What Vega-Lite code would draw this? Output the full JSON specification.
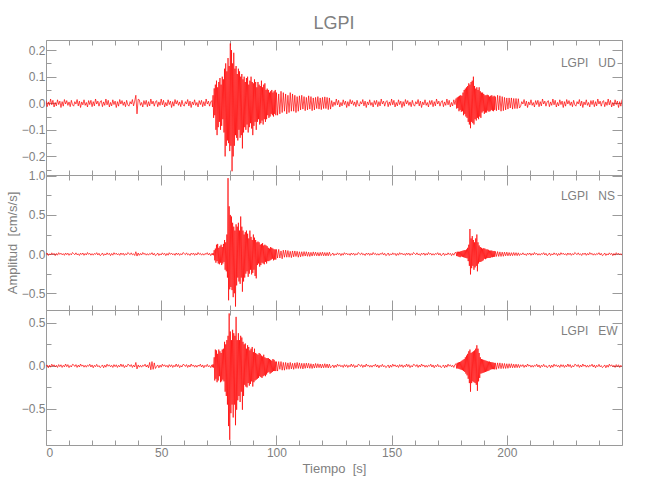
{
"$schema": "https://vega.github.io/schema/vega-lite/v6.json",
"background": "white",
"padding": {"left": 5, "top": 14, "right": 5, "bottom": 5},
"spacing": 0,
"bounds": "flush",
"datasets": {"w": [
{"t":0,"u":0.010,"n":-0.008,"e":-0.007},{"t":0.5,"u":-0.013,"n":0.014,"e":0.011},{"t":1,"u":0.005,"n":-0.018,"e":-0.022},{"t":1.5,"u":-0.008,"n":0.004,"e":0.009},{"t":2,"u":0.016,"n":-0.012,"e":-0.015},{"t":2.5,"u":-0.006,"n":0.016,"e":0.020},
{"t":3,"u":0.011,"n":-0.006,"e":-0.004},{"t":3.5,"u":-0.014,"n":0.010,"e":0.013},{"t":4,"u":0.003,"n":-0.020,"e":-0.011},{"t":4.5,"u":-0.010,"n":0.008,"e":0.007},{"t":5,"u":0.013,"n":-0.014,"e":-0.018},{"t":5.5,"u":-0.005,"n":0.018,"e":0.015},
{"t":6,"u":0.008,"n":-0.004,"e":-0.009},{"t":6.5,"u":-0.016,"n":0.012,"e":0.013},{"t":7,"u":0.006,"n":-0.010,"e":-0.018},{"t":7.5,"u":-0.011,"n":0.006,"e":0.007},{"t":8,"u":0.014,"n":-0.016,"e":-0.011},{"t":8.5,"u":-0.003,"n":0.014,"e":0.022},
{"t":9,"u":0.010,"n":-0.008,"e":-0.009},{"t":9.5,"u":-0.008,"n":0.012,"e":0.015},{"t":10,"u":0.005,"n":-0.016,"e":-0.020},{"t":10.5,"u":-0.013,"n":0.006,"e":0.004},{"t":11,"u":0.011,"n":-0.010,"e":-0.013},{"t":11.5,"u":-0.006,"n":0.020,"e":0.018},
{"t":12,"u":-0.011,"n":0.006,"e":0.013},{"t":12.5,"u":0.006,"n":-0.008,"e":-0.007},{"t":13,"u":-0.003,"n":0.016,"e":0.015},{"t":13.5,"u":0.014,"n":-0.010,"e":-0.018},{"t":14,"u":-0.010,"n":0.004,"e":0.009},{"t":14.5,"u":0.008,"n":-0.018,"e":-0.013},
{"t":15,"u":-0.016,"n":0.012,"e":0.022},{"t":15.5,"u":0.005,"n":-0.006,"e":-0.004},{"t":16,"u":-0.006,"n":0.014,"e":0.011},{"t":16.5,"u":0.013,"n":-0.016,"e":-0.015},{"t":17,"u":-0.008,"n":0.008,"e":0.007},{"t":17.5,"u":0.003,"n":-0.012,"e":-0.015},
{"t":18,"u":-0.014,"n":0.020,"e":0.009},{"t":18.5,"u":0.010,"n":-0.004,"e":-0.004},{"t":19,"u":-0.005,"n":0.010,"e":0.020},{"t":19.5,"u":0.011,"n":-0.014,"e":-0.013},{"t":20,"u":-0.013,"n":0.006,"e":0.011},{"t":20.5,"u":0.006,"n":-0.014,"e":-0.022},
{"t":21,"u":-0.010,"n":0.008,"e":0.007},{"t":21.5,"u":0.016,"n":-0.004,"e":-0.009},{"t":22,"u":-0.003,"n":0.018,"e":0.018},{"t":22.5,"u":0.008,"n":-0.012,"e":-0.011},{"t":23,"u":-0.011,"n":0.010,"e":0.004},{"t":23.5,"u":0.005,"n":-0.020,"e":-0.020},
{"t":24,"u":0.010,"n":-0.008,"e":-0.007},{"t":24.5,"u":-0.013,"n":0.014,"e":0.011},{"t":25,"u":0.005,"n":-0.018,"e":-0.022},{"t":25.5,"u":-0.008,"n":0.004,"e":0.009},{"t":26,"u":0.016,"n":-0.012,"e":-0.015},{"t":26.5,"u":-0.006,"n":0.016,"e":0.020},
{"t":27,"u":0.011,"n":-0.006,"e":-0.004},{"t":27.5,"u":-0.014,"n":0.010,"e":0.013},{"t":28,"u":0.003,"n":-0.020,"e":-0.011},{"t":28.5,"u":-0.010,"n":0.008,"e":0.007},{"t":29,"u":0.013,"n":-0.014,"e":-0.018},{"t":29.5,"u":-0.005,"n":0.018,"e":0.015},
{"t":30,"u":0.008,"n":-0.004,"e":-0.009},{"t":30.5,"u":-0.016,"n":0.012,"e":0.013},{"t":31,"u":0.006,"n":-0.010,"e":-0.018},{"t":31.5,"u":-0.011,"n":0.006,"e":0.007},{"t":32,"u":0.014,"n":-0.016,"e":-0.011},{"t":32.5,"u":-0.003,"n":0.014,"e":0.022},
{"t":33,"u":0.010,"n":-0.008,"e":-0.009},{"t":33.5,"u":-0.008,"n":0.012,"e":0.015},{"t":34,"u":0.005,"n":-0.016,"e":-0.020},{"t":34.5,"u":-0.013,"n":0.006,"e":0.004},{"t":35,"u":0.011,"n":-0.010,"e":-0.013},{"t":35.5,"u":-0.006,"n":0.020,"e":0.018},
{"t":36,"u":-0.011,"n":0.006,"e":0.013},{"t":36.5,"u":0.006,"n":-0.008,"e":-0.007},{"t":37,"u":-0.003,"n":0.016,"e":0.015},{"t":37.5,"u":0.014,"n":-0.010,"e":-0.018},{"t":38,"u":-0.010,"n":0.004,"e":0.009},{"t":38.5,"u":0.008,"n":-0.018,"e":-0.013},
{"t":39,"u":0.030,"n":0.030,"e":0.040},{"t":39.5,"u":-0.040,"n":-0.025,"e":-0.035},{"t":40,"u":0.015,"n":0.014,"e":0.011},{"t":40.5,"u":0.013,"n":-0.016,"e":-0.015},{"t":41,"u":-0.008,"n":0.008,"e":0.007},{"t":41.5,"u":0.003,"n":-0.012,"e":-0.015},
{"t":42,"u":-0.014,"n":0.020,"e":0.009},{"t":42.5,"u":0.010,"n":-0.004,"e":-0.004},{"t":43,"u":-0.005,"n":0.010,"e":0.020},{"t":43.5,"u":0.011,"n":-0.014,"e":-0.013},{"t":44,"u":-0.013,"n":0.006,"e":0.011},{"t":44.5,"u":0.006,"n":-0.014,"e":-0.022},
{"t":45,"u":-0.010,"n":0.008,"e":0.040},{"t":45.5,"u":0.016,"n":-0.004,"e":-0.045},{"t":46,"u":-0.003,"n":0.018,"e":0.050},{"t":46.5,"u":0.008,"n":-0.012,"e":-0.040},{"t":47,"u":-0.011,"n":0.010,"e":0.035},{"t":47.5,"u":0.005,"n":-0.020,"e":-0.030},
{"t":48,"u":0.010,"n":-0.008,"e":-0.007},{"t":48.5,"u":-0.013,"n":0.014,"e":0.011},{"t":49,"u":0.005,"n":-0.018,"e":-0.022},{"t":49.5,"u":-0.008,"n":0.004,"e":0.009},{"t":50,"u":0.016,"n":-0.012,"e":-0.015},{"t":50.5,"u":-0.006,"n":0.016,"e":0.020},
{"t":51,"u":0.011,"n":-0.006,"e":-0.004},{"t":51.5,"u":-0.014,"n":0.010,"e":0.013},{"t":52,"u":0.003,"n":-0.020,"e":-0.011},{"t":52.5,"u":-0.010,"n":0.008,"e":0.007},{"t":53,"u":0.013,"n":-0.014,"e":-0.018},{"t":53.5,"u":-0.005,"n":0.018,"e":0.015},
{"t":54,"u":0.008,"n":-0.004,"e":-0.009},{"t":54.5,"u":-0.016,"n":0.012,"e":0.013},{"t":55,"u":0.006,"n":-0.010,"e":-0.018},{"t":55.5,"u":-0.011,"n":0.006,"e":0.007},{"t":56,"u":0.014,"n":-0.016,"e":-0.011},{"t":56.5,"u":-0.003,"n":0.014,"e":0.022},
{"t":57,"u":0.010,"n":-0.008,"e":-0.009},{"t":57.5,"u":-0.008,"n":0.012,"e":0.015},{"t":58,"u":0.005,"n":-0.016,"e":-0.020},{"t":58.5,"u":-0.013,"n":0.006,"e":0.004},{"t":59,"u":0.011,"n":-0.010,"e":-0.013},{"t":59.5,"u":-0.006,"n":0.020,"e":0.018},
{"t":60,"u":-0.011,"n":0.006,"e":0.013},{"t":60.5,"u":0.006,"n":-0.008,"e":-0.007},{"t":61,"u":-0.003,"n":0.016,"e":0.015},{"t":61.5,"u":0.014,"n":-0.010,"e":-0.018},{"t":62,"u":-0.010,"n":0.004,"e":0.009},{"t":62.5,"u":0.008,"n":-0.018,"e":-0.013},
{"t":63,"u":-0.016,"n":0.012,"e":0.022},{"t":63.5,"u":0.005,"n":-0.006,"e":-0.004},{"t":64,"u":-0.006,"n":0.014,"e":0.011},{"t":64.5,"u":0.013,"n":-0.016,"e":-0.015},{"t":65,"u":-0.008,"n":0.008,"e":0.007},{"t":65.5,"u":0.003,"n":-0.012,"e":-0.015},
{"t":66,"u":-0.014,"n":0.020,"e":0.009},{"t":66.5,"u":0.010,"n":-0.004,"e":-0.004},{"t":67,"u":-0.005,"n":0.010,"e":0.020},{"t":67.5,"u":0.011,"n":-0.014,"e":-0.013},{"t":68,"u":-0.013,"n":0.006,"e":0.011},{"t":68.5,"u":0.006,"n":-0.014,"e":-0.022},
{"t":69,"u":-0.010,"n":0.008,"e":0.007},{"t":69.5,"u":0.016,"n":-0.004,"e":-0.009},{"t":70,"u":-0.003,"n":0.018,"e":0.018},{"t":70.5,"u":0.008,"n":-0.012,"e":-0.011},{"t":71,"u":-0.011,"n":0.010,"e":0.004},{"t":71.5,"u":0.005,"n":-0.020,"e":-0.020},
{"t":72,"u":0.010,"n":0.008,"e":0.012},{"t":72.25,"u":-0.014,"n":-0.010,"e":-0.015},{"t":72.5,"u":0.030,"n":0.012,"e":0.018},{"t":72.75,"u":-0.055,"n":-0.015,"e":-0.020},
{"t":73,"u":0.056,"n":0.05,"e":0.10},{"t":73.25,"u":-0.045,"n":-0.08,"e":-0.17},{"t":73.5,"u":0.070,"n":0.07,"e":0.19},{"t":73.75,"u":-0.100,"n":-0.11,"e":-0.15},
{"t":74,"u":0.085,"n":0.12,"e":0.18},{"t":74.25,"u":-0.120,"n":-0.09,"e":-0.19},{"t":74.5,"u":0.060,"n":0.13,"e":0.14},{"t":74.75,"u":-0.090,"n":-0.12,"e":-0.17},
{"t":75,"u":0.080,"n":0.08,"e":0.19},{"t":75.25,"u":-0.070,"n":-0.13,"e":-0.12},{"t":75.5,"u":0.095,"n":0.10,"e":0.17},{"t":75.75,"u":-0.100,"n":-0.11,"e":-0.19},
{"t":76,"u":0.070,"n":0.12,"e":0.15},{"t":76.25,"u":-0.085,"n":-0.14,"e":-0.18},{"t":76.5,"u":0.100,"n":0.09,"e":0.19},{"t":76.75,"u":-0.060,"n":-0.12,"e":-0.16},
{"t":77,"u":0.090,"n":0.13,"e":0.20},{"t":77.25,"u":-0.110,"n":-0.10,"e":-0.18},{"t":77.5,"u":0.130,"n":0.18,"e":0.28},{"t":77.75,"u":-0.200,"n":-0.20,"e":-0.30},
{"t":78,"u":0.150,"n":0.15,"e":0.25},{"t":78.25,"u":-0.160,"n":-0.22,"e":-0.35},{"t":78.5,"u":0.120,"n":0.25,"e":0.30},{"t":78.75,"u":-0.140,"n":-0.30,"e":-0.45},
{"t":79,"u":0.170,"n":0.97,"e":0.35},{"t":79.25,"u":-0.150,"n":-0.59,"e":-0.70},{"t":79.5,"u":0.140,"n":0.61,"e":0.61},{"t":79.75,"u":-0.180,"n":-0.45,"e":-0.86},
{"t":80,"u":0.225,"n":0.50,"e":0.40},{"t":80.25,"u":-0.160,"n":-0.42,"e":-0.55},{"t":80.5,"u":0.200,"n":0.48,"e":0.30},{"t":80.75,"u":-0.256,"n":-0.46,"e":-0.45},
{"t":81,"u":0.150,"n":0.40,"e":0.42},{"t":81.25,"u":-0.200,"n":-0.55,"e":-0.60},{"t":81.5,"u":0.190,"n":0.35,"e":0.38},{"t":81.75,"u":-0.160,"n":-0.50,"e":-0.45},
{"t":82,"u":0.130,"n":0.30,"e":0.35},{"t":82.25,"u":-0.120,"n":-0.67,"e":-0.69},{"t":82.5,"u":0.140,"n":0.38,"e":0.57},{"t":82.75,"u":-0.130,"n":-0.40,"e":-0.51},
{"t":83,"u":0.110,"n":0.35,"e":0.30},{"t":83.25,"u":-0.140,"n":-0.30,"e":-0.40},{"t":83.5,"u":0.130,"n":0.40,"e":0.38},{"t":83.75,"u":-0.100,"n":-0.35,"e":-0.35},
{"t":84,"u":0.120,"n":0.30,"e":0.30},{"t":84.25,"u":-0.130,"n":-0.38,"e":-0.42},{"t":84.5,"u":0.100,"n":0.48,"e":0.35},{"t":84.75,"u":-0.120,"n":-0.30,"e":-0.30},
{"t":85,"u":0.110,"n":0.35,"e":0.33},{"t":85.25,"u":-0.170,"n":-0.48,"e":-0.51},{"t":85.5,"u":0.090,"n":0.30,"e":0.28},{"t":85.75,"u":-0.110,"n":-0.35,"e":-0.35},
{"t":86,"u":0.100,"n":0.25,"e":0.25},{"t":86.25,"u":-0.090,"n":-0.30,"e":-0.22},{"t":86.5,"u":0.080,"n":0.28,"e":0.26},{"t":86.75,"u":-0.100,"n":-0.25,"e":-0.24},
{"t":87,"u":0.095,"n":0.30,"e":0.20},{"t":87.25,"u":-0.080,"n":-0.22,"e":-0.25},{"t":87.5,"u":0.100,"n":0.26,"e":0.24},{"t":87.75,"u":-0.110,"n":-0.29,"e":-0.20},
{"t":88,"u":0.070,"n":0.20,"e":0.22},{"t":88.25,"u":-0.090,"n":-0.25,"e":-0.23},{"t":88.5,"u":0.085,"n":0.30,"e":0.18},{"t":88.75,"u":-0.075,"n":-0.20,"e":-0.21},
{"t":89,"u":0.100,"n":0.22,"e":0.20},{"t":89.25,"u":-0.095,"n":-0.26,"e":-0.18},{"t":89.5,"u":0.080,"n":0.18,"e":0.22},{"t":89.75,"u":-0.120,"n":-0.24,"e":-0.24},
{"t":90,"u":0.075,"n":0.25,"e":0.16},{"t":90.25,"u":-0.085,"n":-0.20,"e":-0.19},{"t":90.5,"u":0.090,"n":0.21,"e":0.20},{"t":90.75,"u":-0.070,"n":-0.28,"e":-0.17},
{"t":91,"u":0.080,"n":0.18,"e":0.15},{"t":91.25,"u":-0.100,"n":-0.31,"e":-0.16},{"t":91.5,"u":0.060,"n":0.15,"e":0.14},{"t":91.75,"u":-0.070,"n":-0.14,"e":-0.15},
{"t":92,"u":0.080,"n":0.16,"e":0.13},{"t":92.25,"u":-0.060,"n":-0.12,"e":-0.14},{"t":92.5,"u":0.070,"n":0.15,"e":0.15},{"t":92.75,"u":-0.080,"n":-0.16,"e":-0.12},
{"t":93,"u":0.065,"n":0.12,"e":0.14},{"t":93.25,"u":-0.075,"n":-0.14,"e":-0.13},{"t":93.5,"u":0.085,"n":0.13,"e":0.12},{"t":93.75,"u":-0.065,"n":-0.11,"e":-0.14},
{"t":94,"u":0.060,"n":0.14,"e":0.11},{"t":94.25,"u":-0.080,"n":-0.12,"e":-0.12},{"t":94.5,"u":0.070,"n":0.11,"e":0.13},{"t":94.75,"u":-0.060,"n":-0.13,"e":-0.11},
{"t":95,"u":0.075,"n":0.12,"e":0.10},{"t":95.25,"u":-0.070,"n":-0.10,"e":-0.12},{"t":95.5,"u":0.050,"n":0.11,"e":0.09},{"t":95.75,"u":-0.060,"n":-0.12,"e":-0.10},
{"t":96,"u":0.055,"n":0.10,"e":0.09},{"t":96.25,"u":-0.045,"n":-0.09,"e":-0.08},{"t":96.5,"u":0.050,"n":0.08,"e":0.09},{"t":96.75,"u":-0.055,"n":-0.09,"e":-0.07},
{"t":97,"u":0.040,"n":0.07,"e":0.08},{"t":97.25,"u":-0.050,"n":-0.08,"e":-0.09},{"t":97.5,"u":0.045,"n":0.09,"e":0.07},{"t":97.75,"u":-0.040,"n":-0.07,"e":-0.08},
{"t":98,"u":0.050,"n":0.08,"e":0.06},{"t":98.25,"u":-0.045,"n":-0.06,"e":-0.07},{"t":98.5,"u":0.040,"n":0.07,"e":0.08},{"t":98.75,"u":-0.050,"n":-0.08,"e":-0.06},
{"t":99,"u":0.045,"n":0.06,"e":0.07},{"t":99.25,"u":-0.040,"n":-0.07,"e":-0.06},{"t":99.5,"u":0.050,"n":0.06,"e":0.05},{"t":99.75,"u":-0.045,"n":-0.07,"e":-0.06},
{"t":100,"u":0.040,"n":0.06,"e":0.05},{"t":100.5,"u":-0.045,"n":-0.05,"e":-0.06},{"t":101,"u":0.035,"n":0.06,"e":0.05},{"t":101.5,"u":-0.040,"n":-0.05,"e":-0.04},{"t":102,"u":0.045,"n":0.04,"e":0.05},{"t":102.5,"u":-0.035,"n":-0.06,"e":-0.05},
{"t":103,"u":0.040,"n":0.05,"e":0.04},{"t":103.5,"u":-0.030,"n":-0.04,"e":-0.05},{"t":104,"u":0.035,"n":0.05,"e":0.04},{"t":104.5,"u":-0.040,"n":-0.04,"e":-0.04},{"t":105,"u":0.030,"n":0.045,"e":0.035},{"t":105.5,"u":-0.035,"n":-0.04,"e":-0.04},
{"t":106,"u":0.040,"n":0.035,"e":0.04},{"t":106.5,"u":-0.030,"n":-0.045,"e":-0.035},{"t":107,"u":0.035,"n":0.04,"e":0.03},{"t":107.5,"u":-0.030,"n":-0.035,"e":-0.04},{"t":108,"u":0.030,"n":0.04,"e":0.035},{"t":108.5,"u":-0.035,"n":-0.03,"e":-0.03},
{"t":109,"u":0.025,"n":0.035,"e":0.04},{"t":109.5,"u":-0.030,"n":-0.04,"e":-0.03},{"t":110,"u":0.028,"n":0.03,"e":0.035},{"t":110.5,"u":-0.025,"n":-0.035,"e":-0.03},{"t":111,"u":0.030,"n":0.03,"e":0.03},{"t":111.5,"u":-0.022,"n":-0.028,"e":-0.035},
{"t":112,"u":0.025,"n":0.032,"e":0.03},{"t":112.5,"u":-0.028,"n":-0.025,"e":-0.028},{"t":113,"u":0.022,"n":0.03,"e":0.032},{"t":113.5,"u":-0.025,"n":-0.028,"e":-0.025},{"t":114,"u":0.028,"n":0.025,"e":0.03},{"t":114.5,"u":-0.022,"n":-0.03,"e":-0.028},
{"t":115,"u":0.025,"n":0.022,"e":0.025},{"t":115.5,"u":-0.028,"n":-0.025,"e":-0.03},{"t":116,"u":0.020,"n":0.028,"e":0.022},{"t":116.5,"u":-0.025,"n":-0.02,"e":-0.025},{"t":117,"u":0.022,"n":0.025,"e":0.028},{"t":117.5,"u":-0.020,"n":-0.022,"e":-0.022},
{"t":118,"u":0.025,"n":0.02,"e":0.025},{"t":118.5,"u":-0.022,"n":-0.025,"e":-0.02},{"t":119,"u":0.020,"n":0.022,"e":0.022},{"t":119.5,"u":-0.024,"n":-0.02,"e":-0.025},{"t":120,"u":0.022,"n":0.025,"e":0.02},{"t":120.5,"u":-0.020,"n":-0.022,"e":-0.022},
{"t":121,"u":0.024,"n":0.02,"e":0.025},{"t":121.5,"u":-0.020,"n":-0.023,"e":-0.02},{"t":122,"u":0.022,"n":0.02,"e":0.022},{"t":122.5,"u":-0.024,"n":-0.022,"e":-0.024},{"t":123,"u":0.020,"n":0.024,"e":0.02},{"t":123.5,"u":-0.022,"n":-0.02,"e":-0.022},
{"t":124,"u":0.010,"n":-0.008,"e":-0.007},{"t":124.5,"u":-0.013,"n":0.014,"e":0.011},{"t":125,"u":0.005,"n":-0.018,"e":-0.022},{"t":125.5,"u":-0.008,"n":0.004,"e":0.009},{"t":126,"u":0.016,"n":-0.012,"e":-0.015},{"t":126.5,"u":-0.006,"n":0.016,"e":0.020},
{"t":127,"u":0.011,"n":-0.006,"e":-0.004},{"t":127.5,"u":-0.014,"n":0.010,"e":0.013},{"t":128,"u":0.003,"n":-0.020,"e":-0.011},{"t":128.5,"u":-0.010,"n":0.008,"e":0.007},{"t":129,"u":0.013,"n":-0.014,"e":-0.018},{"t":129.5,"u":-0.005,"n":0.018,"e":0.015},
{"t":130,"u":0.008,"n":-0.004,"e":-0.009},{"t":130.5,"u":-0.016,"n":0.012,"e":0.013},{"t":131,"u":0.006,"n":-0.010,"e":-0.018},{"t":131.5,"u":-0.011,"n":0.006,"e":0.007},{"t":132,"u":0.014,"n":-0.016,"e":-0.011},{"t":132.5,"u":-0.003,"n":0.014,"e":0.022},
{"t":133,"u":0.010,"n":-0.008,"e":-0.009},{"t":133.5,"u":-0.008,"n":0.012,"e":0.015},{"t":134,"u":0.005,"n":-0.016,"e":-0.020},{"t":134.5,"u":-0.013,"n":0.006,"e":0.004},{"t":135,"u":0.011,"n":-0.010,"e":-0.013},{"t":135.5,"u":-0.006,"n":0.020,"e":0.018},
{"t":136,"u":-0.011,"n":0.006,"e":0.013},{"t":136.5,"u":0.006,"n":-0.008,"e":-0.007},{"t":137,"u":-0.003,"n":0.016,"e":0.015},{"t":137.5,"u":0.014,"n":-0.010,"e":-0.018},{"t":138,"u":-0.010,"n":0.004,"e":0.009},{"t":138.5,"u":0.008,"n":-0.018,"e":-0.013},
{"t":139,"u":-0.016,"n":0.012,"e":0.022},{"t":139.5,"u":0.005,"n":-0.006,"e":-0.004},{"t":140,"u":-0.006,"n":0.014,"e":0.011},{"t":140.5,"u":0.013,"n":-0.016,"e":-0.015},{"t":141,"u":-0.008,"n":0.008,"e":0.007},{"t":141.5,"u":0.003,"n":-0.012,"e":-0.015},
{"t":142,"u":-0.014,"n":0.020,"e":0.009},{"t":142.5,"u":0.010,"n":-0.004,"e":-0.004},{"t":143,"u":-0.005,"n":0.010,"e":0.020},{"t":143.5,"u":0.011,"n":-0.014,"e":-0.013},{"t":144,"u":-0.013,"n":0.006,"e":0.011},{"t":144.5,"u":0.006,"n":-0.014,"e":-0.022},
{"t":145,"u":-0.010,"n":0.008,"e":0.007},{"t":145.5,"u":0.016,"n":-0.004,"e":-0.009},{"t":146,"u":-0.003,"n":0.018,"e":0.018},{"t":146.5,"u":0.008,"n":-0.012,"e":-0.011},{"t":147,"u":-0.011,"n":0.010,"e":0.004},{"t":147.5,"u":0.005,"n":-0.020,"e":-0.020},
{"t":148,"u":0.010,"n":-0.008,"e":-0.007},{"t":148.5,"u":-0.013,"n":0.014,"e":0.011},{"t":149,"u":0.005,"n":-0.018,"e":-0.022},{"t":149.5,"u":-0.008,"n":0.004,"e":0.009},{"t":150,"u":0.016,"n":-0.012,"e":-0.015},{"t":150.5,"u":-0.006,"n":0.016,"e":0.020},
{"t":151,"u":0.011,"n":-0.006,"e":-0.004},{"t":151.5,"u":-0.014,"n":0.010,"e":0.013},{"t":152,"u":0.003,"n":-0.020,"e":-0.011},{"t":152.5,"u":-0.010,"n":0.008,"e":0.007},{"t":153,"u":0.013,"n":-0.014,"e":-0.018},{"t":153.5,"u":-0.005,"n":0.018,"e":0.015},
{"t":154,"u":0.008,"n":-0.004,"e":-0.009},{"t":154.5,"u":-0.016,"n":0.012,"e":0.013},{"t":155,"u":0.006,"n":-0.010,"e":-0.018},{"t":155.5,"u":-0.011,"n":0.006,"e":0.007},{"t":156,"u":0.014,"n":-0.016,"e":-0.011},{"t":156.5,"u":-0.003,"n":0.014,"e":0.022},
{"t":157,"u":0.010,"n":-0.008,"e":-0.009},{"t":157.5,"u":-0.008,"n":0.012,"e":0.015},{"t":158,"u":0.005,"n":-0.016,"e":-0.020},{"t":158.5,"u":-0.013,"n":0.006,"e":0.004},{"t":159,"u":0.011,"n":-0.010,"e":-0.013},{"t":159.5,"u":-0.006,"n":0.020,"e":0.018},
{"t":160,"u":-0.011,"n":0.006,"e":0.013},{"t":160.5,"u":0.006,"n":-0.008,"e":-0.007},{"t":161,"u":-0.003,"n":0.016,"e":0.015},{"t":161.5,"u":0.014,"n":-0.010,"e":-0.018},{"t":162,"u":-0.010,"n":0.004,"e":0.009},{"t":162.5,"u":0.008,"n":-0.018,"e":-0.013},
{"t":163,"u":-0.016,"n":0.012,"e":0.022},{"t":163.5,"u":0.005,"n":-0.006,"e":-0.004},{"t":164,"u":-0.006,"n":0.014,"e":0.011},{"t":164.5,"u":0.013,"n":-0.016,"e":-0.015},{"t":165,"u":-0.008,"n":0.008,"e":0.007},{"t":165.5,"u":0.003,"n":-0.012,"e":-0.015},
{"t":166,"u":-0.014,"n":0.020,"e":0.009},{"t":166.5,"u":0.010,"n":-0.004,"e":-0.004},{"t":167,"u":-0.005,"n":0.010,"e":0.020},{"t":167.5,"u":0.011,"n":-0.014,"e":-0.013},{"t":168,"u":-0.013,"n":0.006,"e":0.011},{"t":168.5,"u":0.006,"n":-0.014,"e":-0.022},
{"t":169,"u":-0.010,"n":0.008,"e":0.007},{"t":169.5,"u":0.016,"n":-0.004,"e":-0.009},{"t":170,"u":-0.003,"n":0.018,"e":0.018},{"t":170.5,"u":0.008,"n":-0.012,"e":-0.011},{"t":171,"u":-0.011,"n":0.010,"e":0.004},{"t":171.5,"u":0.005,"n":-0.020,"e":-0.020},
{"t":172,"u":0.010,"n":-0.008,"e":-0.007},{"t":172.5,"u":-0.013,"n":0.014,"e":0.011},{"t":173,"u":0.005,"n":-0.018,"e":-0.022},{"t":173.5,"u":-0.008,"n":0.004,"e":0.009},{"t":174,"u":0.016,"n":-0.012,"e":-0.015},{"t":174.5,"u":-0.006,"n":0.016,"e":0.020},
{"t":175,"u":0.011,"n":-0.006,"e":-0.004},{"t":175.5,"u":-0.014,"n":0.010,"e":0.013},{"t":176,"u":0.003,"n":-0.020,"e":-0.011},{"t":176.5,"u":-0.010,"n":0.008,"e":0.007},{"t":177,"u":0.013,"n":-0.014,"e":-0.018},{"t":177.5,"u":-0.005,"n":0.018,"e":0.015},
{"t":178,"u":0.018,"n":0.020,"e":0.025},{"t":178.25,"u":-0.020,"n":-0.025,"e":-0.030},{"t":178.5,"u":0.022,"n":0.030,"e":0.035},{"t":178.75,"u":-0.018,"n":-0.028,"e":-0.030},
{"t":179,"u":0.025,"n":0.030,"e":0.040},{"t":179.25,"u":-0.030,"n":-0.035,"e":-0.035},{"t":179.5,"u":0.028,"n":0.030,"e":0.045},{"t":179.75,"u":-0.025,"n":-0.040,"e":-0.040},
{"t":180,"u":0.030,"n":0.035,"e":0.050},{"t":180.25,"u":-0.032,"n":-0.030,"e":-0.045},{"t":180.5,"u":0.028,"n":0.040,"e":0.060},{"t":180.75,"u":-0.030,"n":-0.035,"e":-0.050},
{"t":181,"u":0.040,"n":0.045,"e":0.070},{"t":181.25,"u":-0.045,"n":-0.040,"e":-0.060},{"t":181.5,"u":0.050,"n":0.050,"e":0.080},{"t":181.75,"u":-0.040,"n":-0.045,"e":-0.070},
{"t":182,"u":0.055,"n":0.050,"e":0.100},{"t":182.25,"u":-0.050,"n":-0.050,"e":-0.090},{"t":182.5,"u":0.060,"n":0.060,"e":0.120},{"t":182.75,"u":-0.055,"n":-0.055,"e":-0.110},
{"t":183,"u":0.065,"n":0.080,"e":0.140},{"t":183.25,"u":-0.070,"n":-0.090,"e":-0.150},{"t":183.5,"u":0.075,"n":0.120,"e":0.170},{"t":183.75,"u":-0.080,"n":-0.150,"e":-0.200},
{"t":184,"u":0.070,"n":0.320,"e":0.190},{"t":184.25,"u":-0.094,"n":-0.260,"e":-0.300},{"t":184.5,"u":0.080,"n":0.200,"e":0.150},{"t":184.75,"u":-0.070,"n":-0.180,"e":-0.200},
{"t":185,"u":0.085,"n":0.230,"e":0.160},{"t":185.25,"u":-0.075,"n":-0.150,"e":-0.180},{"t":185.5,"u":0.100,"n":0.180,"e":0.170},{"t":185.75,"u":-0.080,"n":-0.200,"e":-0.190},
{"t":186,"u":0.065,"n":0.150,"e":0.180},{"t":186.25,"u":-0.060,"n":-0.170,"e":-0.200},{"t":186.5,"u":0.055,"n":0.200,"e":0.200},{"t":186.75,"u":-0.065,"n":-0.150,"e":-0.220},
{"t":187,"u":0.060,"n":0.250,"e":0.240},{"t":187.25,"u":-0.055,"n":-0.220,"e":-0.290},{"t":187.5,"u":0.050,"n":0.150,"e":0.200},{"t":187.75,"u":-0.060,"n":-0.120,"e":-0.180},
{"t":188,"u":0.060,"n":0.110,"e":0.150},{"t":188.25,"u":-0.050,"n":-0.100,"e":-0.140},{"t":188.5,"u":0.045,"n":0.090,"e":0.100},{"t":188.75,"u":-0.055,"n":-0.100,"e":-0.090},
{"t":189,"u":0.040,"n":0.080,"e":0.080},{"t":189.25,"u":-0.035,"n":-0.090,"e":-0.085},{"t":189.5,"u":0.040,"n":0.070,"e":0.075},{"t":189.75,"u":-0.030,"n":-0.080,"e":-0.080},
{"t":190,"u":0.035,"n":0.075,"e":0.070},{"t":190.25,"u":-0.040,"n":-0.060,"e":-0.075},{"t":190.5,"u":0.030,"n":0.070,"e":0.065},{"t":190.75,"u":-0.035,"n":-0.065,"e":-0.070},
{"t":191,"u":0.030,"n":0.060,"e":0.060},{"t":191.25,"u":-0.035,"n":-0.055,"e":-0.065},{"t":191.5,"u":0.032,"n":0.060,"e":0.055},{"t":191.75,"u":-0.028,"n":-0.050,"e":-0.060},
{"t":192,"u":0.030,"n":0.055,"e":0.050},{"t":192.25,"u":-0.032,"n":-0.050,"e":-0.055},{"t":192.5,"u":0.025,"n":0.045,"e":0.050},{"t":192.75,"u":-0.030,"n":-0.050,"e":-0.045},
{"t":193,"u":0.028,"n":0.045,"e":0.045},{"t":193.25,"u":-0.025,"n":-0.040,"e":-0.040},{"t":193.5,"u":0.030,"n":0.045,"e":0.042},{"t":193.75,"u":-0.028,"n":-0.040,"e":-0.038},
{"t":194,"u":0.025,"n":0.038,"e":0.040},{"t":194.25,"u":-0.030,"n":-0.035,"e":-0.038},{"t":194.5,"u":0.028,"n":0.040,"e":0.035},{"t":194.75,"u":-0.025,"n":-0.035,"e":-0.040},
{"t":195,"u":0.025,"n":0.035,"e":0.035},{"t":195.5,"u":-0.028,"n":-0.030,"e":-0.040},{"t":196,"u":0.030,"n":0.032,"e":0.035},{"t":196.5,"u":-0.025,"n":-0.030,"e":-0.030},{"t":197,"u":0.028,"n":0.028,"e":0.035},{"t":197.5,"u":-0.030,"n":-0.030,"e":-0.032},
{"t":198,"u":0.025,"n":0.025,"e":0.030},{"t":198.5,"u":-0.028,"n":-0.028,"e":-0.030},{"t":199,"u":0.022,"n":0.025,"e":0.028},{"t":199.5,"u":-0.025,"n":-0.022,"e":-0.030},{"t":200,"u":0.020,"n":0.025,"e":0.025},{"t":200.5,"u":-0.022,"n":-0.022,"e":-0.028},
{"t":201,"u":0.020,"n":0.020,"e":0.025},{"t":201.5,"u":-0.018,"n":-0.022,"e":-0.022},{"t":202,"u":0.020,"n":0.018,"e":0.025},{"t":202.5,"u":-0.022,"n":-0.020,"e":-0.022},{"t":203,"u":0.018,"n":0.020,"e":0.020},{"t":203.5,"u":-0.020,"n":-0.018,"e":-0.022},
{"t":204,"u":0.018,"n":0.018,"e":0.020},{"t":204.5,"u":-0.020,"n":-0.020,"e":-0.020},{"t":205,"u":0.017,"n":0.016,"e":0.018},{"t":205.5,"u":-0.018,"n":-0.018,"e":-0.020},
{"t":206,"u":-0.011,"n":0.006,"e":0.013},{"t":206.5,"u":0.006,"n":-0.008,"e":-0.007},{"t":207,"u":-0.003,"n":0.016,"e":0.015},{"t":207.5,"u":0.014,"n":-0.010,"e":-0.018},{"t":208,"u":-0.010,"n":0.004,"e":0.009},{"t":208.5,"u":0.008,"n":-0.018,"e":-0.013},
{"t":209,"u":-0.016,"n":0.012,"e":0.022},{"t":209.5,"u":0.005,"n":-0.006,"e":-0.004},{"t":210,"u":-0.006,"n":0.014,"e":0.011},{"t":210.5,"u":0.013,"n":-0.016,"e":-0.015},{"t":211,"u":-0.008,"n":0.008,"e":0.007},{"t":211.5,"u":0.003,"n":-0.012,"e":-0.015},
{"t":212,"u":-0.014,"n":0.020,"e":0.009},{"t":212.5,"u":0.010,"n":-0.004,"e":-0.004},{"t":213,"u":-0.005,"n":0.010,"e":0.020},{"t":213.5,"u":0.011,"n":-0.014,"e":-0.013},{"t":214,"u":-0.013,"n":0.006,"e":0.011},{"t":214.5,"u":0.006,"n":-0.014,"e":-0.022},
{"t":215,"u":-0.010,"n":0.008,"e":0.007},{"t":215.5,"u":0.016,"n":-0.004,"e":-0.009},{"t":216,"u":-0.003,"n":0.018,"e":0.018},{"t":216.5,"u":0.008,"n":-0.012,"e":-0.011},{"t":217,"u":-0.011,"n":0.010,"e":0.004},{"t":217.5,"u":0.005,"n":-0.020,"e":-0.020},
{"t":218,"u":0.010,"n":-0.008,"e":-0.007},{"t":218.5,"u":-0.013,"n":0.014,"e":0.011},{"t":219,"u":0.005,"n":-0.018,"e":-0.022},{"t":219.5,"u":-0.008,"n":0.004,"e":0.009},{"t":220,"u":0.016,"n":-0.012,"e":-0.015},{"t":220.5,"u":-0.006,"n":0.016,"e":0.020},
{"t":221,"u":0.011,"n":-0.006,"e":-0.004},{"t":221.5,"u":-0.014,"n":0.010,"e":0.013},{"t":222,"u":0.003,"n":-0.020,"e":-0.011},{"t":222.5,"u":-0.010,"n":0.008,"e":0.007},{"t":223,"u":0.013,"n":-0.014,"e":-0.018},{"t":223.5,"u":-0.005,"n":0.018,"e":0.015},
{"t":224,"u":0.008,"n":-0.004,"e":-0.009},{"t":224.5,"u":-0.016,"n":0.012,"e":0.013},{"t":225,"u":0.006,"n":-0.010,"e":-0.018},{"t":225.5,"u":-0.011,"n":0.006,"e":0.007},{"t":226,"u":0.014,"n":-0.016,"e":-0.011},{"t":226.5,"u":-0.003,"n":0.014,"e":0.022},
{"t":227,"u":0.010,"n":-0.008,"e":-0.009},{"t":227.5,"u":-0.008,"n":0.012,"e":0.015},{"t":228,"u":0.005,"n":-0.016,"e":-0.020},{"t":228.5,"u":-0.013,"n":0.006,"e":0.004},{"t":229,"u":0.011,"n":-0.010,"e":-0.013},{"t":229.5,"u":-0.006,"n":0.020,"e":0.018},
{"t":230,"u":-0.011,"n":0.006,"e":0.013},{"t":230.5,"u":0.006,"n":-0.008,"e":-0.007},{"t":231,"u":-0.003,"n":0.016,"e":0.015},{"t":231.5,"u":0.014,"n":-0.010,"e":-0.018},{"t":232,"u":-0.010,"n":0.004,"e":0.009},{"t":232.5,"u":0.008,"n":-0.018,"e":-0.013},
{"t":233,"u":-0.016,"n":0.012,"e":0.022},{"t":233.5,"u":0.005,"n":-0.006,"e":-0.004},{"t":234,"u":-0.006,"n":0.014,"e":0.011},{"t":234.5,"u":0.013,"n":-0.016,"e":-0.015},{"t":235,"u":-0.008,"n":0.008,"e":0.007},{"t":235.5,"u":0.003,"n":-0.012,"e":-0.015},
{"t":236,"u":-0.014,"n":0.020,"e":0.009},{"t":236.5,"u":0.010,"n":-0.004,"e":-0.004},{"t":237,"u":-0.005,"n":0.010,"e":0.020},{"t":237.5,"u":0.011,"n":-0.014,"e":-0.013},{"t":238,"u":-0.013,"n":0.006,"e":0.011},{"t":238.5,"u":0.006,"n":-0.014,"e":-0.022},
{"t":239,"u":-0.010,"n":0.008,"e":0.007},{"t":239.5,"u":0.016,"n":-0.004,"e":-0.009},{"t":240,"u":-0.003,"n":0.018,"e":0.018},{"t":240.5,"u":0.008,"n":-0.012,"e":-0.011},{"t":241,"u":-0.011,"n":0.010,"e":0.004},{"t":241.5,"u":0.005,"n":-0.020,"e":-0.020},
{"t":242,"u":0.010,"n":-0.008,"e":-0.007},{"t":242.5,"u":-0.013,"n":0.014,"e":0.011},{"t":243,"u":0.005,"n":-0.018,"e":-0.022},{"t":243.5,"u":-0.008,"n":0.004,"e":0.009},{"t":244,"u":0.016,"n":-0.012,"e":-0.015},{"t":244.5,"u":-0.006,"n":0.016,"e":0.020},
{"t":245,"u":0.011,"n":-0.006,"e":-0.004},{"t":245.5,"u":-0.014,"n":0.010,"e":0.013},{"t":246,"u":0.003,"n":-0.020,"e":-0.011},{"t":246.5,"u":-0.010,"n":0.008,"e":0.007},{"t":247,"u":0.013,"n":-0.014,"e":-0.018},{"t":247.5,"u":-0.005,"n":0.018,"e":0.015},
{"t":248,"u":0.008,"n":-0.004,"e":-0.009},{"t":248.5,"u":-0.016,"n":0.012,"e":0.013},{"t":249,"u":0.006,"n":-0.010,"e":-0.018},{"t":249.5,"u":-0.011,"n":0.006,"e":0.007},{"t":250,"u":0.014,"n":-0.016,"e":-0.011}
]},
"config": {
  "view": {"stroke": "#9a9a9a", "strokeWidth": 1},
  "font": "Liberation Sans",
  "axis": {"domain": false, "grid": false, "tickColor": "#9a9a9a", "tickWidth": 1, "labelColor": "#808080", "labelFont": "Liberation Sans", "labelFontSize": 12, "titleColor": "#808080", "titleFont": "Liberation Sans", "titleFontSize": 13, "titleFontWeight": "normal"},
  "title": {"color": "#808080", "font": "Liberation Sans", "fontSize": 18, "fontWeight": "normal"}
},
"vconcat": [
{
  "width": 576, "height": 135,
  "title": {"text": "LGPI", "offset": 7},
  "data": {"name": "w"},
  "layer": [
    {"mark": {"type": "line", "color": "#ff0000", "strokeWidth": 0.7, "clip": true},
     "encoding": {
       "x": {"field": "t", "type": "quantitative", "scale": {"domain": [0, 250], "nice": false, "zero": false},
             "axis": {"orient": "bottom", "values": [0,10,20,30,40,50,60,70,80,90,100,110,120,130,140,150,160,170,180,190,200,210,220,230,240,250], "labels": false, "title": null, "tickSize": {"condition": {"test": "datum.value % 50 === 0", "value": -10}, "value": -5}}},
       "y": {"field": "u", "type": "quantitative", "scale": {"domain": [-0.27, 0.238], "nice": false, "zero": false},
             "axis": {"orient": "left", "values": [-0.25,-0.2,-0.15,-0.1,-0.05,0,0.05,0.1,0.15,0.2], "title": null, "labelPadding": 11, "labelExpr": "abs(datum.value*10-round(datum.value*10))<0.001 ? format(datum.value, '.1f') : ''", "tickSize": {"condition": {"test": "abs(datum.value*10-round(datum.value*10))<0.001", "value": -10}, "value": -5}}}
     }},
    {"data": {"values": [{}]},
     "mark": {"type": "text", "align": "left", "baseline": "middle", "color": "#808080", "font": "Liberation Sans", "fontSize": 12},
     "encoding": {
       "x": {"datum": 223.5, "type": "quantitative", "scale": {"domain": [0, 250], "nice": false, "zero": false},
             "axis": {"orient": "top", "values": [0,10,20,30,40,50,60,70,80,90,100,110,120,130,140,150,160,170,180,190,200,210,220,230,240,250], "labels": false, "title": null, "tickSize": {"condition": {"test": "datum.value % 50 === 0", "value": -10}, "value": -5}}},
       "y": {"datum": 0.15, "type": "quantitative", "scale": {"domain": [-0.27, 0.238], "nice": false, "zero": false},
             "axis": {"orient": "right", "values": [-0.25,-0.2,-0.15,-0.1,-0.05,0,0.05,0.1,0.15,0.2], "labels": false, "title": null, "tickSize": {"condition": {"test": "abs(datum.value*10-round(datum.value*10))<0.001", "value": -10}, "value": -5}}},
       "text": {"value": "LGPI\u00a0\u00a0\u00a0UD"}
     }}
  ],
  "resolve": {"axis": {"x": "independent", "y": "independent"}}
},
{
  "width": 576, "height": 135,
  "data": {"name": "w"},
  "layer": [
    {"mark": {"type": "line", "color": "#ff0000", "strokeWidth": 0.7, "clip": true},
     "encoding": {
       "x": {"field": "t", "type": "quantitative", "scale": {"domain": [0, 250], "nice": false, "zero": false},
             "axis": {"orient": "bottom", "values": [0,10,20,30,40,50,60,70,80,90,100,110,120,130,140,150,160,170,180,190,200,210,220,230,240,250], "labels": false, "title": null, "tickSize": {"condition": {"test": "datum.value % 50 === 0", "value": -10}, "value": -5}}},
       "y": {"field": "n", "type": "quantitative", "scale": {"domain": [-0.714, 1.01], "nice": false, "zero": false},
             "axis": {"orient": "left", "values": [-0.75,-0.5,-0.25,0,0.25,0.5,0.75,1], "title": "Amplitud\u00a0\u00a0[cm/s/s]", "titlePadding": 2, "labelPadding": 11, "labelExpr": "abs(datum.value*2-round(datum.value*2))<0.001 ? format(datum.value, '.1f') : ''", "tickSize": {"condition": {"test": "abs(datum.value*2-round(datum.value*2))<0.001", "value": -10}, "value": -5}}}
     }},
    {"data": {"values": [{}]},
     "mark": {"type": "text", "align": "left", "baseline": "middle", "color": "#808080", "font": "Liberation Sans", "fontSize": 12},
     "encoding": {
       "x": {"datum": 223.5, "type": "quantitative", "scale": {"domain": [0, 250], "nice": false, "zero": false},
             "axis": {"orient": "top", "values": [0,10,20,30,40,50,60,70,80,90,100,110,120,130,140,150,160,170,180,190,200,210,220,230,240,250], "labels": false, "title": null, "tickSize": {"condition": {"test": "datum.value % 50 === 0", "value": -10}, "value": -5}}},
       "y": {"datum": 0.745, "type": "quantitative", "scale": {"domain": [-0.714, 1.01], "nice": false, "zero": false},
             "axis": {"orient": "right", "values": [-0.75,-0.5,-0.25,0,0.25,0.5,0.75,1], "labels": false, "title": null, "tickSize": {"condition": {"test": "abs(datum.value*2-round(datum.value*2))<0.001", "value": -10}, "value": -5}}},
       "text": {"value": "LGPI\u00a0\u00a0\u00a0NS"}
     }}
  ],
  "resolve": {"axis": {"x": "independent", "y": "independent"}}
},
{
  "width": 576, "height": 135,
  "data": {"name": "w"},
  "layer": [
    {"mark": {"type": "line", "color": "#ff0000", "strokeWidth": 0.7, "clip": true},
     "encoding": {
       "x": {"field": "t", "type": "quantitative", "scale": {"domain": [0, 250], "nice": false, "zero": false},
             "axis": {"orient": "bottom", "values": [0,10,20,30,40,50,60,70,80,90,100,110,120,130,140,150,160,170,180,190,200,210,220,230,240,250], "title": "Tiempo\u00a0\u00a0[s]", "labelPadding": 12, "labelExpr": "datum.value % 50 === 0 && datum.value < 250 ? datum.label : ''", "tickSize": {"condition": {"test": "datum.value % 50 === 0", "value": -10}, "value": -5}}},
       "y": {"field": "e", "type": "quantitative", "scale": {"domain": [-0.92, 0.65], "nice": false, "zero": false},
             "axis": {"orient": "left", "values": [-0.75,-0.5,-0.25,0,0.25,0.5], "title": null, "labelPadding": 11, "labelExpr": "abs(datum.value*2-round(datum.value*2))<0.001 ? format(datum.value, '.1f') : ''", "tickSize": {"condition": {"test": "abs(datum.value*2-round(datum.value*2))<0.001", "value": -10}, "value": -5}}}
     }},
    {"data": {"values": [{}]},
     "mark": {"type": "text", "align": "left", "baseline": "middle", "color": "#808080", "font": "Liberation Sans", "fontSize": 12},
     "encoding": {
       "x": {"datum": 223.5, "type": "quantitative", "scale": {"domain": [0, 250], "nice": false, "zero": false},
             "axis": {"orient": "top", "values": [0,10,20,30,40,50,60,70,80,90,100,110,120,130,140,150,160,170,180,190,200,210,220,230,240,250], "labels": false, "title": null, "tickSize": {"condition": {"test": "datum.value % 50 === 0", "value": -10}, "value": -5}}},
       "y": {"datum": 0.41, "type": "quantitative", "scale": {"domain": [-0.92, 0.65], "nice": false, "zero": false},
             "axis": {"orient": "right", "values": [-0.75,-0.5,-0.25,0,0.25,0.5], "labels": false, "title": null, "tickSize": {"condition": {"test": "abs(datum.value*2-round(datum.value*2))<0.001", "value": -10}, "value": -5}}},
       "text": {"value": "LGPI\u00a0\u00a0\u00a0EW"}
     }}
  ],
  "resolve": {"axis": {"x": "independent", "y": "independent"}}
}
]
}
